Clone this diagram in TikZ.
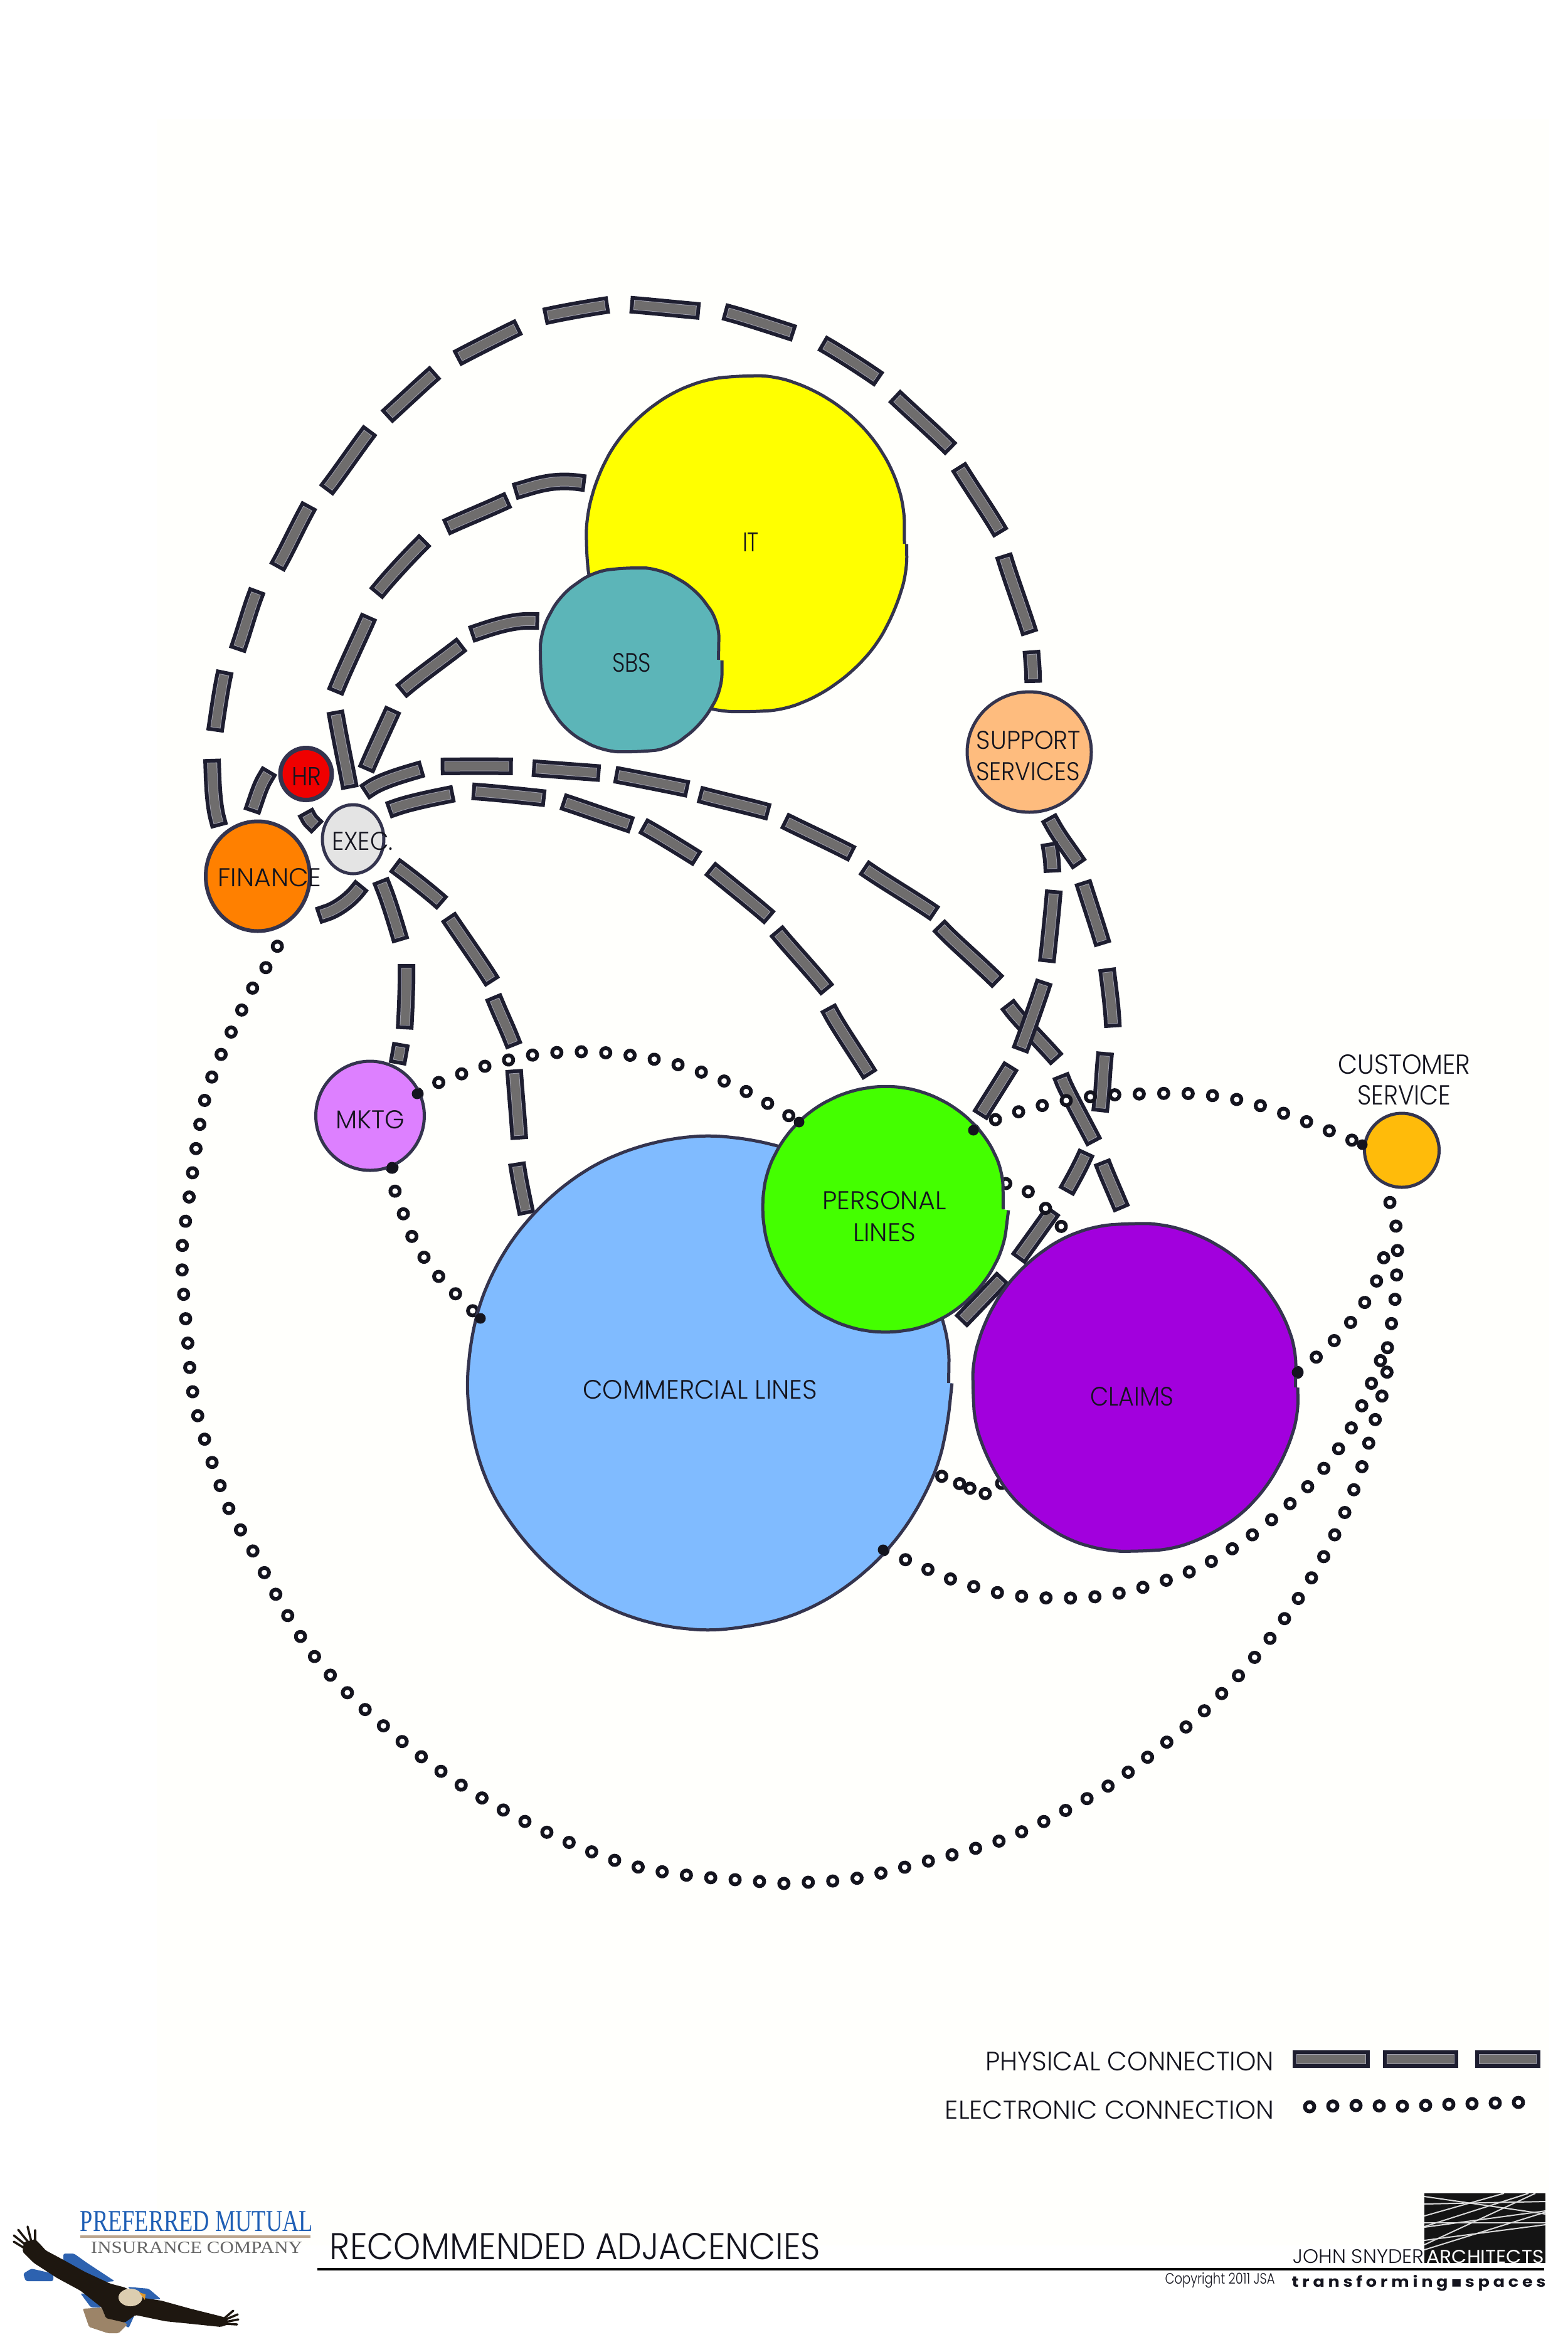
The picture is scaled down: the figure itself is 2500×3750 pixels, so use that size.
\documentclass[tikz,border=0pt]{standalone}
\usepackage{fontspec}
\usepackage{graphicx}
\setmainfont{Poppins Light}
\newfontfamily\logoserif{Liberation Serif}
\newfontfamily\tagfont{Poppins}
\newfontfamily\symfont{DejaVu Sans}
\usetikzlibrary{shapes.geometric,decorations.pathmorphing}
\pgfdeclarelayer{paper}
\pgfdeclarelayer{links}
\pgfsetlayers{paper,links,main}
\definecolor{edge}{HTML}{34344E}
\definecolor{ink}{HTML}{14141E}
\definecolor{dashdark}{HTML}{1E1E30}
\definecolor{dashlight}{HTML}{A0A0AE}
\definecolor{dashgrey}{HTML}{6F6D6D}
\definecolor{cIT}{HTML}{FFFF00}
\definecolor{cSBS}{HTML}{5CB5B8}
\definecolor{cSUP}{HTML}{FEBC7E}
\definecolor{cHR}{HTML}{F00000}
\definecolor{cEXE}{HTML}{E4E4E4}
\definecolor{cFIN}{HTML}{FF8000}
\definecolor{cMKT}{HTML}{DD80FF}
\definecolor{cPER}{HTML}{44FF00}
\definecolor{cCOM}{HTML}{80BBFF}
\definecolor{cCLA}{HTML}{A200DD}
\definecolor{cCUS}{HTML}{FFBB0A}
\definecolor{cBlue}{HTML}{1F5FB5}
\definecolor{cBar}{HTML}{BBA58E}
\definecolor{cGrayT}{HTML}{666666}
\definecolor{eagle}{HTML}{1E1710}
\definecolor{eagleTail}{HTML}{9C8468}
\definecolor{eagleHead}{HTML}{DCCDB0}
\definecolor{eagleBlue}{HTML}{2D62B0}
\definecolor{eagleBeak}{HTML}{E0982A}
\newcommand\fit[3]{\resizebox{#1pt}{#2pt}{#3}}
\newcommand\physconn[2]{%
  \draw[physout,dash pattern={#1}] #2;
  \draw[physmid,dash pattern={#1}] #2;
  \draw[physin,dash pattern={#1}] #2;}
\newcommand\elecconn[2]{%
  \draw[elecout,dash pattern=on 0.01pt off #1pt] #2;
  \draw[elecin,dash pattern=on 0.01pt off #1pt] #2;}
\tikzset{
  bub/.style n args={3}{ellipse,draw=edge,line width=5pt,inner sep=0pt,fill=#1,minimum width=#2pt,minimum height=#3pt},
  sketch/.style={decorate,decoration={random steps,segment length=60pt,amplitude=1.2pt},rounded corners=25pt},
  lab/.style={inner sep=0pt,text=ink},
  knob/.style={circle,fill=ink,inner sep=0pt,minimum size=17pt},
  physout/.style={draw=dashdark,line width=28pt,line cap=rect},
  physmid/.style={draw=dashlight,line width=16pt,line cap=rect},
  physin/.style={draw=dashgrey,line width=14pt,line cap=rect},
  elecout/.style={draw=ink,line width=21pt,line cap=round},
  elecin/.style={draw=white,line width=9pt,line cap=round},
  sm/.style={smooth,tension=0.55},
  logoline/.style={draw=white!85!black,line width=2pt},
  feather/.style={draw=eagle,line width=3.5pt,line cap=round},
}
\begin{document}
\begin{tikzpicture}[x=1pt,y=-1pt]
\useasboundingbox (0,0) rectangle (2500,3750);
\begin{pgfonlayer}{paper}
  \fill[white] (0,0) rectangle (2500,3750);
  \fill[white!99!yellow] (250,190) rectangle (2470,3580);
\end{pgfonlayer}
\pgfmathsetseed{7}

% departments
\node[bub={cIT}{504}{528},sketch] (it) at (1190,867) {};
\node[bub={cSBS}{279}{283},sketch] (sbs) at (1006,1052) {};
\node[bub={cSUP}{198}{192}] (sup) at (1641,1199) {};
\node[bub={cHR}{82}{83},line width=7pt] (hr) at (488,1234) {};
\node[bub={cEXE}{98}{110}] (exec) at (563,1338) {};
\node[bub={cFIN}{166}{175},line width=6pt] (fin) at (411,1397) {};
\node[bub={cMKT}{173}{174}] (mkt) at (590,1779) {};
\node[bub={cCOM}{763}{779},sketch] (com) at (1131,2205) {};
\node[bub={cPER}{377}{379},sketch] (per) at (1411,1928) {};
\node[bub={cCLA}{511}{516},sketch] (cla) at (1810,2212) {};
\node[bub={cCUS}{119}{118}] (cus) at (2235,1834) {};

% connection knobs
\node[knob] (kMkA) at (665,1744) {};
\node[knob] (kMkB) at (625,1861) {};
\node[knob] (kPerA) at (1274,1789) {};
\node[knob] (kPerB) at (1552,1802) {};
\node[knob] (kCus) at (2172,1825) {};
\node[knob] (kCla) at (2068,2188) {};
\node[knob] (kComA) at (766,2102) {};
\node[knob] (kComB) at (1408,2471) {};
\coordinate (mergeA) at (2212,2150);
\coordinate (mergeB) at (2209,1985);
\coordinate (legPa) at (2075,3283);
\coordinate (legPb) at (2443,3283);
\coordinate (legEa) at (2088,3359);
\coordinate (legEb) at (2421,3352);

\begin{pgfonlayer}{links}
% physical connections
\physconn{on 0.01pt off 114pt on 81pt off 72pt on 70pt off 66pt on 74pt off 75pt on 85pt off 63pt on 92pt off 61pt on 78pt off 68pt on 84pt off 71pt on 77pt off 62pt on 84pt off 66pt on 90pt off 74pt on 81pt off 63pt on 97pt off 58pt on 99pt off 63pt on 105pt off 55pt on 24pt off 900pt}
 {plot[sm] coordinates {(fin.center) (350,1316) (338,1211) (343,1164) (359,1070) (379,1034) (411,940) (443,902) (494,805) (522,779) (591,685) (619,662) (695,593) (731,570) (828,521) (871,504) (971,486) (1008,486) (1117,496) (1158,498) (1268,532) (1314,549) (1403,606) (1429,634) (1518,718) (1531,748) (1597,853) (1602,891) (1643,1014) (1645,1044) (1647,1093) (sup.center)}}
\physconn{on 0.01pt off 288pt on 88pt off 46pt on 82pt off 66pt on 89pt off 65pt on 106pt off 58pt on 98pt off 900pt}
 {plot[sm] coordinates {(it.center) (938,772) (825,782) (810,797) (713,840) (678,861) (601,945) (588,983) (535,1103) (535,1136) (558,1257) (562,1290) (exec.center)}}
\physconn{on 0.01pt off 173pt on 84pt off 50pt on 96pt off 59pt on 79pt off 900pt}
 {plot[sm] coordinates {(sbs.center) (859,991) (752,1011) (734,1029) (639,1103) (625,1135) (583,1229) (572,1270) (exec.center)}}
\physconn{on 0.01pt off 90pt on 74pt off 57pt on 87pt off 59pt on 81pt off 51pt on 92pt off 47pt on 88pt off 55pt on 94pt off 56pt on 109pt off 50pt on 104pt off 66pt on 92pt off 55pt on 93pt off 60pt on 55pt off 900pt}
 {plot[sm] coordinates {(exec.center) (584,1262) (676,1225) (708,1222) (820,1222) (854,1225) (960,1233) (986,1236) (1101,1259) (1121,1268) (1230,1296) (1256,1311) (1363,1364) (1383,1387) (1495,1460) (1504,1483) (1597,1572) (1613,1610) (1691,1697) (1696,1727) (1750,1832) (1762,1865) (1793,1939) (1803,1975) (cla.center)}}
\physconn{on 0.01pt off 86pt on 81pt off 57pt on 90pt off 55pt on 90pt off 45pt on 75pt off 52pt on 97pt off 51pt on 98pt off 57pt on 100pt off 900pt}
 {plot[sm] coordinates {(exec.center) (622,1291) (725,1265) (757,1262) (871,1273) (900,1279) (1009,1316) (1029,1319) (1115,1371) (1136,1388) (1230,1466) (1242,1489) (1322,1583) (1325,1615) (1391,1721) (1402,1755) (per.center)}}
\physconn{on 0.01pt off 91pt on 71pt off 51pt on 99pt off 51pt on 59pt off 65pt on 84pt off 65pt on 56pt off 900pt}
 {plot[sm] coordinates {(exec.center) (630,1380) (705,1440) (716,1463) (785,1566) (788,1592) (820,1670) (820,1710) (828,1819) (825,1859) (840,1939) (846,1975) (com.center)}}
\physconn{on 0.01pt off 92pt on 75pt off 66pt on 76pt off 51pt on 6pt off 900pt}
 {plot[sm] coordinates {(exec.center) (607,1405) (639,1500) (648,1540) (645,1641) (639,1667) (633,1698) (625,1722) (mkt.center)}}
\physconn{on 0.01pt off 88pt on 60pt off 900pt}
 {plot[sm] coordinates {(exec.center) (575,1412) (503,1458) (fin.center)}}
\physconn{on 0.01pt off 70pt on 45pt off 900pt}
 {plot[sm] coordinates {(hr.center) (430,1232) (401,1295) (390,1325) (fin.center)}}
\physconn{on 0.01pt off 73pt on 5pt off 900pt}
 {plot[sm] coordinates {(hr.center) (489,1295) (508,1318) (exec.center)}}
\physconn{on 0.01pt off 122pt on 63pt off 55pt on 78pt off 66pt on 67pt off 69pt on 68pt off 95pt on 44pt off 63pt on 69pt off 65pt on 70pt off 900pt}
 {plot[sm] coordinates {(sup.center) (1673,1304) (1720,1378) (1727,1407) (1758,1505) (1765,1545) (1774,1637) (1762,1681) (1753,1776) (1730,1842) (1698,1903) (1676,1934) (1621,2010) (1595,2041) (1529,2110) (1505,2135) (com.center)}}
\physconn{on 0.01pt off 162pt on 20pt off 56pt on 88pt off 58pt on 90pt off 55pt on 67pt off 900pt}
 {plot[sm] coordinates {(sup.center) (1673,1346) (1678,1391) (1680,1422) (1669,1534) (1664,1567) (1626,1675) (1611,1701) (1562,1779) (1545,1806) (per.center)}}
\physconn{on 95pt off 49pt on 92pt off 55pt on 76pt off 100pt}
 {(legPa) -- (legPb)}

% electronic connections
\elecconn{39}{plot[sm] coordinates {(fin.center) (443,1502) (405,1571) (353,1680) (324,1764) (300,1920) (290,2004) (298,2124) (312,2244) (360,2393) (396,2460) (516,2659) (732,2844) (989,2969) (1224,3001) (1300,3000) (1380,2992) (1569,2943) (1641,2915) (1711,2880) (1780,2839) (1847,2788) (1909,2738) (1966,2681) (2018,2621) (2063,2559) (2105,2492) (2140,2421) (2169,2346) (2191,2269) (2203,2227) (2211,2192) (2212,2150) (2219,2107) (2225,2064) (2227,2025) (2228,1984) (2224,1943) (2215,1903) (cus.center)}}
\elecconn{39}{plot[sm] coordinates {(kMkA) (704,1724) (780,1698) (857,1681) (936,1677) (1015,1684) (1090,1700) (1167,1729) (1236,1766) (kPerA)}}
\elecconn{38.5}{plot[sm] coordinates {(kMkB) (629,1896) (643,1935) (657,1972) (677,2006) (704,2040) (kComA)}}
\elecconn{39}{plot[sm] coordinates {(kPerB) (1595,1782) (1664,1762) (1744,1748) (1826,1744) (1905,1744) (1981,1755) (2058,1779) (2132,1808) (kCus)}}
\elecconn{39.4}{plot[sm] coordinates {(per.center) (1604,1887) (1657,1922) (1694,1959) (cla.center)}}
\elecconn{30.7}{plot[sm] coordinates {(com.center) (1502,2354) (1532,2367) (1559,2376) (1588,2371) (cla.center)}}
\elecconn{39}{plot[sm] coordinates {(kComB) (1456,2492) (1528,2522) (1605,2542) (1682,2548) (1762,2544) (1839,2526) (1915,2498) (1983,2457) (2045,2408) (2100,2354) (2147,2290) (2182,2217) (2195,2181) (mergeA)}}
\elecconn{39}{plot[sm] coordinates {(kCla) (2109,2155) (2139,2125) (2163,2096) (2185,2061) (2202,2025) (mergeB)}}
\elecconn{37}{plot[sm] coordinates {(legEa) (2157,3357) (2237,3358) (2314,3355) (legEb)}}
\end{pgfonlayer}

% department labels
\node[lab] (tIT) at (1197,864) {\fit{26}{30}{IT}};
\node[lab] (tSBS) at (1007,1057) {\fit{62}{30}{SBS}};
\node[lab] (tSUP) at (1640,1180) {\fit{166}{29}{SUPPORT}};
\node[lab] (tSER) at (1639,1230) {\fit{165}{29}{SERVICES}};
\node[lab] (tHR) at (489,1238) {\fit{47}{29}{HR}};
\node[lab] (tEXE) at (578,1341) {\fit{98}{29}{EXEC.}};
\node[lab] (tFIN) at (430,1399) {\fit{165}{29}{FINANCE}};
\node[lab] (tMKT) at (590,1785) {\fit{110}{29}{MKTG}};
\node[lab] (tPER) at (1410,1914) {\fit{197}{29}{PERSONAL}};
\node[lab] (tLIN) at (1410,1965) {\fit{100}{29}{LINES}};
\node[lab] (tCOM) at (1116,2216) {\fit{374}{30}{COMMERCIAL LINES}};
\node[lab] (tCLA) at (1805,2227) {\fit{133}{30}{CLAIMS}};
\node[lab] (tCUS) at (2239,1697) {\fit{211}{31}{CUSTOMER}};
\node[lab] (tCSV) at (2239,1746) {\fit{149}{31}{SERVICE}};

% legend
\node[lab] (tLP) at (1801,3287) {\fit{460}{30}{PHYSICAL CONNECTION}};
\node[lab] (tLE) at (1769,3364) {\fit{524}{29}{ELECTRONIC CONNECTION}};

% title block
\node[lab] (tTitle) at (917,3582) {\fit{782}{42}{RECOMMENDED ADJACENCIES}};
\draw[draw=black,line width=4.5pt] (506,3618) -- (2462,3618);

% client logo
\node[lab,text=cBlue] (tPM) at (313.5,3542) {\fit{371}{32}{\logoserif PREFERRED MUTUAL}};
\fill[cBar] (128,3564) rectangle (495,3568);
\node[lab,text=cGrayT] (tIC) at (313.5,3584) {\fit{337}{18}{\logoserif INSURANCE COMPANY}};
\fill[eagleBlue,rounded corners=3pt] (37,3625) -- (41,3637) -- (85,3637) -- (85,3625) -- (50,3617) -- cycle;
\fill[eagleBlue,rounded corners=3pt] (101,3593) -- (118,3593) -- (139,3608) -- (183,3637) -- (159,3639) -- (101,3605) -- cycle;
\fill[eagleBlue,rounded corners=3pt] (203,3646) -- (237,3649) -- (257,3666) -- (230,3666) -- cycle;
\fill[eagleBlue,rounded corners=3pt] (128,3656) -- (145,3679) -- (162,3679) -- (145,3660) -- cycle;
\fill[eagleBlue,rounded corners=3pt] (190,3700) -- (215,3690) -- (205,3712) -- cycle;
\fill[eagleTail,rounded corners=2pt] (132,3681) -- (142,3710) -- (172,3720) -- (189,3720) -- (203,3706) -- (189,3696) -- (169,3696) -- (162,3679) -- cycle;
\fill[eagle,rounded corners=2pt] (36,3590) -- (38,3575) -- (56,3570) -- (64,3578) -- (73,3588) -- (101,3603) -- (135,3622) -- (176,3641) -- (199,3647) -- (230,3664) -- (257,3668) -- (304,3681) -- (352,3693) -- (362,3696) -- (364,3706) -- (352,3710) -- (304,3705) -- (264,3701) -- (216,3691) -- (199,3703) -- (169,3696) -- (162,3679) -- (128,3652) -- (91,3632) -- (54,3608) -- cycle;
\draw[feather] (40,3585) -- (22,3574);
\draw[feather] (42,3580) -- (22,3564);
\draw[feather] (46,3576) -- (29,3555);
\draw[feather] (50,3574) -- (44,3550);
\draw[feather] (56,3574) -- (56,3556);
\draw[feather] (358,3696) -- (372,3684);
\draw[feather] (360,3698) -- (379,3690);
\draw[feather] (360,3702) -- (380,3698);
\draw[feather] (360,3705) -- (378,3706);
\fill[eagleHead] (208,3663) ellipse [x radius=19, y radius=14];
\fill[eagleBeak] (222,3655) -- (232,3658) -- (231,3667) -- cycle;

% architect logo
\fill[black!92] (2271,3497) rectangle (2464,3608);
\begin{scope}
\clip (2271,3497) rectangle (2464,3588);
\draw[logoline] (2271,3502) -- (2464,3530);
\draw[logoline] (2271,3514) -- (2464,3510);
\draw[logoline] (2271,3533) -- (2398,3497);
\draw[logoline] (2271,3550) -- (2437,3497);
\draw[logoline] (2271,3551) -- (2464,3525);
\draw[logoline] (2271,3544) -- (2464,3544);
\draw[logoline] (2271,3579) -- (2448,3497);
\draw[logoline] (2271,3572) -- (2464,3547);
\draw[logoline] (2271,3587) -- (2464,3527);
\end{scope}
\node[lab] (tJS) at (2166,3598) {\fit{209}{22}{JOHN SNYDER}};
\node[lab,text=white] (tAR) at (2368,3598) {\fit{187}{21}{\tagfont ARCHITECTS}};
\node[lab] (tCR) at (1945,3636) {\fit{175}{18}{Copyright 2011 JSA}};
\node[lab] (tTS) at (2262,3640) {\fit{405}{19}{\tagfont\bfseries t r a n s f o r m i n g\,{\symfont▪}\,s p a c e s}};
\end{tikzpicture}
\end{document}
